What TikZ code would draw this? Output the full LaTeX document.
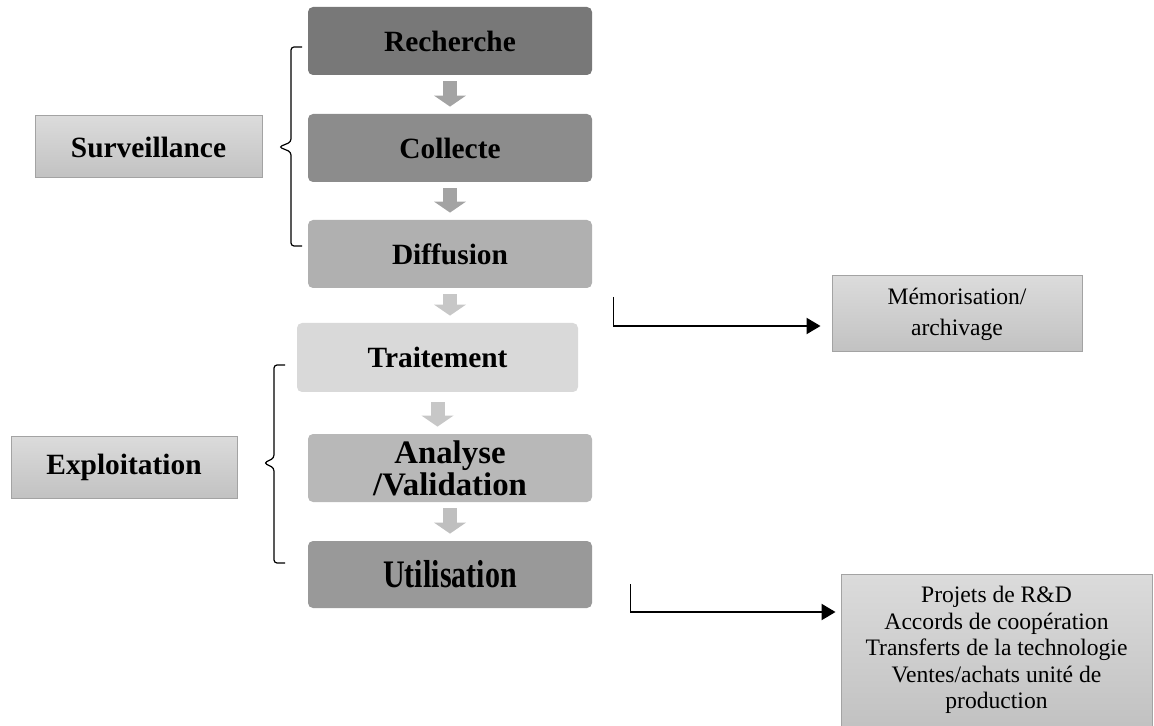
\documentclass[tikz,border=0pt]{standalone}
\usepackage{fontspec}
\setmainfont{Liberation Serif}
\usepackage{xcolor}
\usepackage{tikz}
\usetikzlibrary{arrows.meta,calc}

\definecolor{rechgray}{gray}{0.47}
\definecolor{collgray}{gray}{0.55}
\definecolor{diffgray}{gray}{0.69}
\definecolor{traitgray}{gray}{0.85}
\definecolor{anagray}{gray}{0.72}
\definecolor{utilgray}{gray}{0.60}
\definecolor{arrdark}{gray}{0.64}
\definecolor{arrlight}{gray}{0.78}
\definecolor{arrmid}{gray}{0.75}
\definecolor{sidetop}{gray}{0.86}
\definecolor{sidebot}{gray}{0.76}
\definecolor{sideline}{gray}{0.64}

\begin{document}
\begin{tikzpicture}[x=0.5pt,y=-0.5pt,
  stage/.style={rounded corners=2.5pt, minimum width=142pt, minimum height=34pt,
    inner sep=0pt, align=center, font=\fontsize{14.7}{17}\selectfont\bfseries},
  side/.style={draw=sideline, line width=0.5pt, top color=sidetop, bottom color=sidebot,
    inner sep=0pt, align=center, font=\fontsize{14.7}{17}\selectfont\bfseries},
  note/.style={draw=sideline, line width=0.5pt, top color=sidetop, bottom color=sidebot,
    inner sep=0pt, align=center},
  blk/.style={line width=7pt, -{Triangle[width=16pt,length=5.5pt,line width=0pt]},
    shorten <=3pt, shorten >=3.5pt},
  link/.style={line width=1.2pt, -{Triangle[width=8pt,length=7pt]}},
  tick/.style={line width=0.5pt},
  bracket/.style={line width=0.6pt, rounded corners=1.5pt}]
\useasboundingbox (0,0) rectangle (1154,726);

% central chain
\node[stage, fill=rechgray] (rech) at (450,41) {Recherche};
\node[stage, fill=collgray] (coll) at (450,148) {Collecte};
\node[stage, fill=diffgray] (diff) at (450,254) {Diffusion};
\node[stage, fill=traitgray, minimum width=140.5pt, minimum height=34.5pt] (trait) at (437.5,357.5) {Traitement};
\node[stage, fill=anagray, font=\fontsize{16.4}{16}\selectfont\bfseries] (ana) at (450,468) {Analyse\\/Validation};
\node[stage, fill=utilgray, minimum height=33.5pt, font=\fontsize{15}{17}\selectfont\bfseries] (util) at (450,574.5) {\scalebox{1}[1.3]{Utilisation}};

\draw[blk, arrdark] (rech) -- (coll);
\draw[blk, arrdark] (coll) -- (diff);
\draw[blk, arrlight] (diff.south) -- (diff.south |- trait.north);
\draw[blk, arrlight, shorten <=5pt] (trait.south) -- (trait.south |- ana.north);
\draw[blk, arrmid] (ana) -- (util);

% left groups
\node[side, minimum width=113.5pt, minimum height=31pt] (surv) at (148.5,147) {Surveillance};
\node[side, minimum width=113pt, minimum height=31pt] (expl) at (124,467) {Exploitation};

\draw[bracket] (302,47) -- (291,47) -- (291,142) -- (279,147) -- (291,152) -- (291,246) -- (302,246);
\draw[bracket] (285,365) -- (274,365) -- (274,458) -- (264,463) -- (274,468) -- (274,563) -- (285,563);

% outputs
\node[note, minimum width=125pt, minimum height=38pt, font=\fontsize{11.8}{15.5}\selectfont] (mem) at (957,314) {M\'emorisation/\\archivage};
\node[note, minimum width=155.5pt, minimum height=76pt, font=\fontsize{11.8}{13.3}\selectfont] (res) at (996.5,650)
  {Projets de R\&D\\Accords de coop\'eration\\Transferts de la technologie\\Ventes/achats unit\'e de\\production};

\coordinate (mt) at (613,297);
\coordinate (mc) at (613,326);
\draw[tick] (mt) -- (mc);
\draw[link] (mc) -- ([shift={(-11,12)}]mem.west);

\coordinate (rt) at (630,584);
\coordinate (rc) at (630,612);
\draw[tick] (rt) -- (rc);
\draw[link] (rc) -- ([shift={(-5,-38)}]res.west);
\end{tikzpicture}
\end{document}
